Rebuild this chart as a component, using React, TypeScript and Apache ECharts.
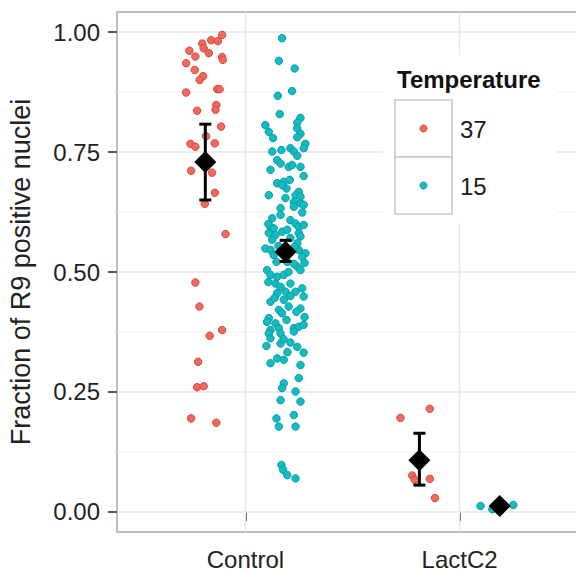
import React, { useEffect, useRef } from 'react';
import * as echarts from 'echarts';

const categories = ['Control', 'LactC2'];
const yTicks = [0, 0.25, 0.5, 0.75, 1];
const yMinorLines = [0.125, 0.375, 0.625, 0.875];
const yAxisTitle = 'Fraction of R9 positive nuclei';
const legendTitle = 'Temperature';
const groupNames = ['37', '15'];
const groupColors = ['#F0695D', '#13BCC0'];
const groupBorders = ['#D24A3F', '#0A9EA3'];

// [x position (category index + dodge + jitter), fraction]
const control37: [number, number][] = [
  [0.891, 0.994], [0.840, 0.983], [0.871, 0.981], [0.798, 0.976], [0.805, 0.966],
  [0.738, 0.961], [0.829, 0.956], [0.766, 0.949], [0.891, 0.948], [0.894, 0.942],
  [0.723, 0.935], [0.763, 0.921], [0.802, 0.908], [0.786, 0.900], [0.868, 0.881],
  [0.879, 0.881], [0.723, 0.874], [0.864, 0.848], [0.774, 0.836], [0.860, 0.838],
  [0.886, 0.803], [0.816, 0.783], [0.743, 0.767], [0.766, 0.761], [0.857, 0.768],
  [0.746, 0.711], [0.844, 0.707], [0.857, 0.665], [0.810, 0.642], [0.907, 0.579],
  [0.766, 0.478], [0.785, 0.428], [0.891, 0.379], [0.833, 0.367], [0.779, 0.313],
  [0.774, 0.260], [0.805, 0.262], [0.746, 0.195], [0.864, 0.186],
];

const control15: [number, number][] = [
  [1.171, 0.987], [1.156, 0.940], [1.230, 0.924], [1.151, 0.867], [1.218, 0.877],
  [1.160, 0.829], [1.257, 0.821], [1.093, 0.806], [1.242, 0.811], [1.109, 0.792],
  [1.242, 0.799], [1.257, 0.788], [1.129, 0.779], [1.242, 0.781], [1.280, 0.767],
  [1.272, 0.758], [1.125, 0.751], [1.168, 0.754], [1.210, 0.758], [1.226, 0.751],
  [1.148, 0.733], [1.164, 0.726], [1.242, 0.742], [1.117, 0.713], [1.202, 0.719],
  [1.218, 0.723], [1.257, 0.719], [1.272, 0.700], [1.148, 0.685], [1.179, 0.688],
  [1.207, 0.692], [1.192, 0.674], [1.171, 0.681], [1.249, 0.667], [1.234, 0.660],
  [1.257, 0.657], [1.109, 0.660], [1.226, 0.646], [1.257, 0.643], [1.272, 0.640],
  [1.164, 0.633], [1.226, 0.636], [1.265, 0.624], [1.125, 0.612], [1.210, 0.608],
  [1.234, 0.601], [1.249, 0.594], [1.272, 0.598], [1.117, 0.594], [1.132, 0.591],
  [1.171, 0.584], [1.195, 0.588], [1.249, 0.581], [1.109, 0.581], [1.140, 0.577],
  [1.125, 0.567], [1.257, 0.574], [1.093, 0.549], [1.117, 0.546], [1.242, 0.560],
  [1.249, 0.546], [1.132, 0.535], [1.280, 0.539], [1.265, 0.532], [1.195, 0.521],
  [1.242, 0.511], [1.226, 0.517], [1.101, 0.504], [1.117, 0.494], [1.148, 0.490],
  [1.179, 0.494], [1.210, 0.476], [1.140, 0.476], [1.164, 0.469], [1.187, 0.459],
  [1.265, 0.466], [1.272, 0.449], [1.234, 0.459], [1.148, 0.456], [1.117, 0.438],
  [1.179, 0.442], [1.202, 0.428], [1.257, 0.424], [1.156, 0.421], [1.171, 0.414],
  [1.109, 0.404], [1.101, 0.396], [1.140, 0.393], [1.117, 0.379], [1.156, 0.383],
  [1.226, 0.383], [1.249, 0.386], [1.272, 0.390], [1.109, 0.372], [1.164, 0.372],
  [1.226, 0.376], [1.117, 0.362], [1.164, 0.351], [1.210, 0.353], [1.242, 0.344],
  [1.272, 0.332], [1.148, 0.320], [1.179, 0.317], [1.117, 0.310], [1.257, 0.306],
  [1.249, 0.279], [1.179, 0.268], [1.171, 0.258], [1.234, 0.251], [1.257, 0.230],
  [1.164, 0.233], [1.226, 0.202], [1.145, 0.195], [1.156, 0.178], [1.234, 0.178],
  [1.168, 0.098], [1.176, 0.088], [1.195, 0.077], [1.234, 0.070],
  [1.107, 0.600], [1.154, 0.554], [1.210, 0.571], [1.229, 0.552], [1.145, 0.521],
  [1.257, 0.504], [1.201, 0.500], [1.173, 0.542], [1.107, 0.479], [1.136, 0.446],
  [1.210, 0.450], [1.238, 0.417], [1.192, 0.400], [1.276, 0.406], [1.178, 0.360],
  [1.098, 0.346], [1.196, 0.333], [1.276, 0.519], [1.164, 0.619], [1.187, 0.654],
];

const lact37: [number, number][] = [
  [1.724, 0.196], [1.861, 0.215], [1.779, 0.076], [1.791, 0.067], [1.861, 0.069], [1.885, 0.029],
];

const lact15: [number, number][] = [
  [2.098, 0.0125], [2.153, 0.0056], [2.184, 0.0167], [2.251, 0.0146],
];

const meanX = [0.8125, 1.1875, 1.8125, 2.1875];
const meanY = [0.729, 0.542, 0.108, 0.0125];
const ciLow = [0.650, 0.522, 0.056, 0.006];
const ciHigh = [0.808, 0.566, 0.164, 0.019];

const FONT = '"Liberation Sans", Arial, Helvetica, sans-serif';

export default function App() {
  const ref = useRef<HTMLDivElement>(null);
  useEffect(() => {
    if (!ref.current) return;
    const chart = echarts.init(ref.current, null, { renderer: 'svg' });

    // gridline specs: [orientation(0=horizontal,1=vertical), value, major(1)/minor(0)]
    const gridData: number[][] = [];
    yMinorLines.forEach((v) => gridData.push([0, v, 0]));
    yTicks.forEach((v) => gridData.push([0, v, 1]));
    categories.forEach((_, i) => gridData.push([1, i + 1, 1]));

    const pointSeries = (data: [number, number][], gi: number) => ({
      type: 'scatter',
      data,
      symbol: 'circle',
      symbolSize: 7.5,
      z: 3,
      itemStyle: { color: groupColors[gi], borderColor: groupBorders[gi], borderWidth: 1, opacity: 1 },
      silent: true,
    });

    const legendX = 395;
    const keySize = 57;
    const legendTop = 100;

    const option: any = {
      animation: false,
      backgroundColor: '#ffffff',
      textStyle: { fontFamily: FONT },
      grid: {
        left: 117, top: 12, width: 471, height: 520,
        show: true, backgroundColor: '#ffffff', borderColor: '#a8a8a8', borderWidth: 1.5,
        containLabel: false, outerBoundsMode: 'none',
      },
      xAxis: {
        type: 'value', min: 0.4, max: 2.6,
        axisLine: { show: false },
        splitLine: { show: false },
        axisTick: { show: true, length: 9, customValues: [1, 2], lineStyle: { color: '#333', width: 1.6 } },
        axisLabel: {
          show: true, customValues: [1, 2], margin: 15,
          formatter: (v: number) => categories[Math.round(v) - 1] ?? '',
          fontSize: 24, color: '#222', fontFamily: FONT,
        },
      },
      yAxis: {
        type: 'value', min: -0.0417, max: 1.0417,
        axisLine: { show: false },
        splitLine: { show: false },
        axisTick: { show: true, length: 9, customValues: yTicks, lineStyle: { color: '#333', width: 1.6 } },
        axisLabel: {
          show: true, customValues: yTicks, margin: 17,
          formatter: (v: number) => v.toFixed(2),
          fontSize: 24, color: '#222', fontFamily: FONT,
        },
        name: yAxisTitle, nameLocation: 'middle', nameRotate: 90, nameGap: 83,
        nameTextStyle: { fontSize: 27, color: '#222', fontFamily: FONT },
      },
      series: [
        {
          type: 'custom', z: 1, silent: true,
          data: gridData,
          encode: { x: -1, y: -1 },
          clip: false,
          renderItem: (params: any, api: any) => {
            const cs = params.coordSys;
            const orient = api.value(0);
            const v = api.value(1);
            const major = api.value(2) === 1;
            const style = { stroke: major ? '#e6e6e6' : '#f3f3f3', lineWidth: major ? 1.4 : 1, fill: 'none' };
            if (orient === 0) {
              const y = api.coord([1, v])[1];
              return { type: 'line', shape: { x1: cs.x, y1: y, x2: cs.x + cs.width, y2: y }, style };
            }
            const x = api.coord([v, 0.5])[0];
            return { type: 'line', shape: { x1: x, y1: cs.y, x2: x, y2: cs.y + cs.height }, style };
          },
        },
        pointSeries(control37, 0),
        pointSeries(lact37, 0),
        pointSeries(control15, 1),
        pointSeries(lact15, 1),
        {
          type: 'custom', z: 5, silent: true,
          data: meanX.map((x, i) => [x, ciLow[i], ciHigh[i]]),
          encode: { x: 0, y: [1, 2] },
          renderItem: (params: any, api: any) => {
            const x = api.value(0);
            const top = api.coord([x, api.value(2)]);
            const bot = api.coord([x, api.value(1)]);
            const hw = 6;
            const style = { stroke: '#000', lineWidth: 3, fill: 'none' };
            return {
              type: 'group',
              children: [
                { type: 'line', shape: { x1: top[0], y1: top[1], x2: bot[0], y2: bot[1] }, style },
                { type: 'line', shape: { x1: top[0] - hw, y1: top[1], x2: top[0] + hw, y2: top[1] }, style },
                { type: 'line', shape: { x1: bot[0] - hw, y1: bot[1], x2: bot[0] + hw, y2: bot[1] }, style },
              ],
            };
          },
        },
        {
          type: 'scatter', z: 6, silent: true,
          data: meanX.map((x, i) => [x, meanY[i]]),
          symbol: 'diamond', symbolSize: 22,
          itemStyle: { color: '#000', opacity: 1 },
        },
      ],
      graphic: [
        { type: 'rect', z: 100, shape: { x: 383, y: 55, width: 173, height: 168 }, style: { fill: '#ffffff' } },
        {
          type: 'text', z: 101, x: 397, y: 79,
          style: { text: legendTitle, font: `bold 24px ${FONT}`, fill: '#111', verticalAlign: 'middle', align: 'left' },
        },
        ...groupNames.flatMap((g, i) => [
          {
            type: 'rect', z: 101,
            shape: { x: legendX, y: legendTop + i * keySize, width: keySize, height: keySize },
            style: { fill: '#ffffff', stroke: '#c8c8c8', lineWidth: 1.6 },
          },
          {
            type: 'circle', z: 102,
            shape: { cx: legendX + keySize / 2, cy: legendTop + i * keySize + keySize / 2, r: 3.5 },
            style: { fill: groupColors[i], stroke: groupBorders[i], lineWidth: 1 },
          },
          {
            type: 'text', z: 102, x: 460, y: legendTop + i * keySize + keySize / 2 + 1,
            style: { text: g, font: `24px ${FONT}`, fill: '#1a1a1a', verticalAlign: 'middle', align: 'left' },
          },
        ]),
      ],
    };

    chart.setOption(option);
    return () => chart.dispose();
  }, []);

  return <div ref={ref} style={{ position: 'absolute', left: 0, top: 0, width: 576, height: 572 }} />;
}
